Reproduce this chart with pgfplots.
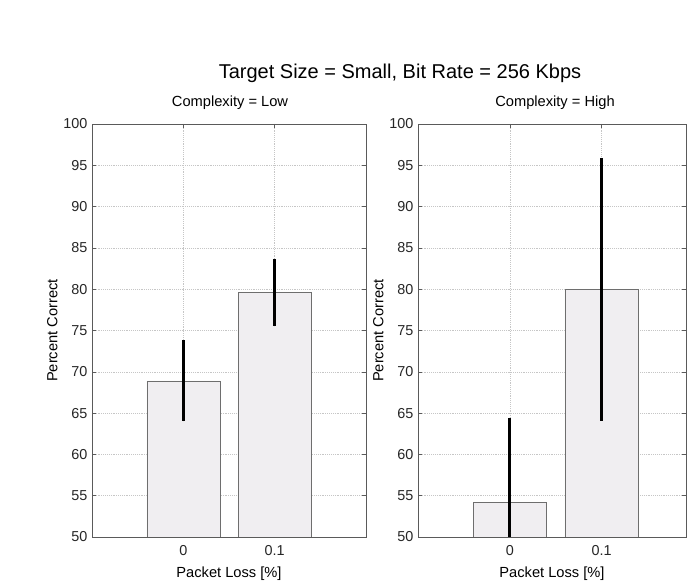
\documentclass[border=0pt]{standalone}
\usepackage{fontspec}
\setmainfont{Liberation Sans}
\usepackage{pgfplots}
\pgfplotsset{compat=1.18}

\definecolor{barfill}{RGB}{240,238,241}
\definecolor{baredge}{RGB}{110,110,110}
\definecolor{axcol}{RGB}{90,90,90}

\pgfplotsset{
  panel/.style={
    scale only axis,
    height=309.75pt,
    ymin=50, ymax=100,
    ytick={50,55,...,100},
    xmin=0,
    xtick={1,2}, xticklabels={0,0.1},
    ybar, bar width=0.8,
    grid=major,
    major grid style={densely dotted, gray!45},
    axis line style={axcol},
    every tick/.style={axcol},
    tick align=inside,
    major tick length=3pt,
    /pgf/number format/assume math mode=true,
    tick label style={font=\fontsize{10.8}{12}\selectfont, text=black!85},
    xticklabel style={yshift=-3pt},
    label style={font=\fontsize{11}{13}\selectfont},
    xlabel={Packet Loss [\%]},
    ylabel={Percent Correct},
    xlabel style={yshift=-1pt},
    ylabel style={yshift=-2.5pt},
    anchor=south west,
  },
  errs/.style={
    fill=barfill, draw=baredge,
    error bars/.cd, y dir=both, y explicit, error mark=none,
    error bar style={line width=2.2pt, black},
  },
}

\begin{document}
\begin{tikzpicture}
\path[use as bounding box] (0,0) rectangle (515.25pt,438pt);

% Complexity = Low
\begin{axis}[panel, at={(69pt,35.25pt)}, width=205.5pt, xmax=3]
\addplot[errs] coordinates {(1,68.9) +- (0,4.9) (2,79.6) +- (0,4.1)};
\end{axis}

% Complexity = High
\begin{axis}[panel, at={(313.5pt,35.25pt)}, width=201pt, xmax=2.92]
\addplot[errs] coordinates {(1,54.15) +- (0,10.3) (2,80.0) +- (0,15.9)};
\end{axis}

\node[font=\fontsize{15}{17}\selectfont] at (300pt,383.25pt) {Target Size = Small, Bit Rate = 256 Kbps};
\node[font=\fontsize{11}{13}\selectfont] at (172.5pt,360.75pt) {Complexity = Low};
\node[font=\fontsize{11}{13}\selectfont] at (416.25pt,360.75pt) {Complexity = High};
\end{tikzpicture}
\end{document}
